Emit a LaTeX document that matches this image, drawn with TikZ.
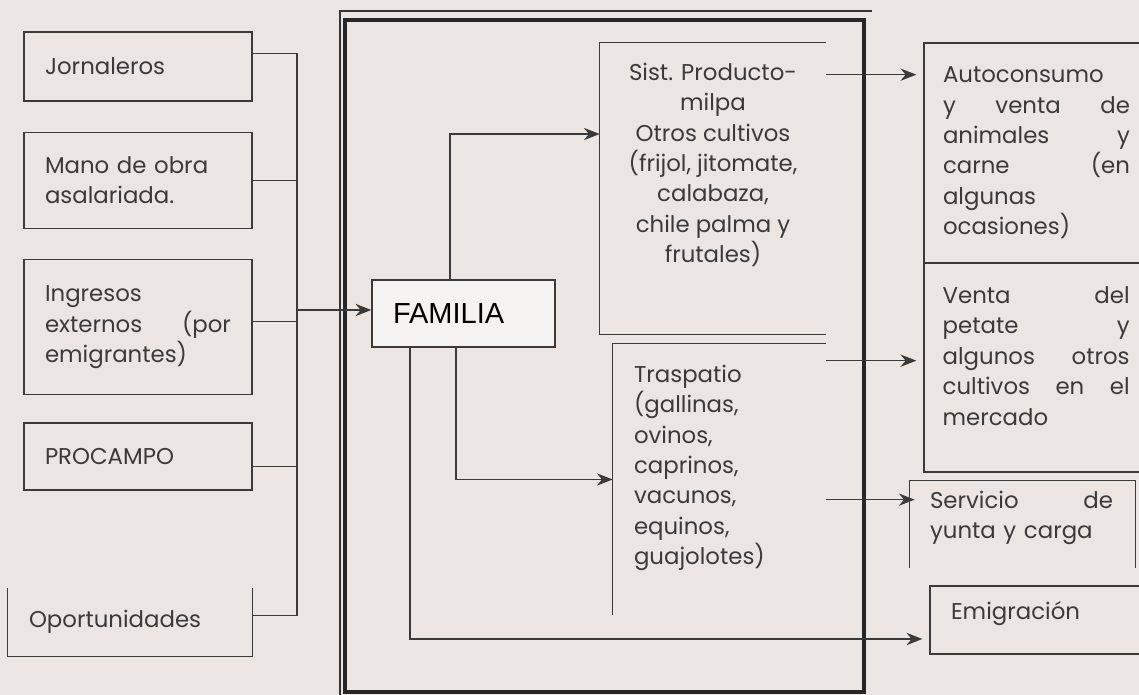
\documentclass[tikz,border=0pt]{standalone}
\usepackage{fontspec}
\setmainfont{Poppins}
\newfontfamily\arialfont{Liberation Sans}
\usetikzlibrary{shapes,arrows,arrows.meta,positioning}
\definecolor{paper}{HTML}{ECE6E2}
\definecolor{ink}{HTML}{3A3A3A}
\definecolor{famfill}{HTML}{F5F3F1}
\tikzstyle{leftbox} = [rectangle, draw=ink, line width=0.8pt, minimum width=4.56cm, text width=3.72cm, inner xsep=0.42cm, align=left, text=ink, font=\fontsize{13}{17.3}\selectfont]
\tikzstyle{rightbox} = [rectangle, draw=ink, line width=0.8pt, minimum width=4.5cm, text width=3.74cm, inner xsep=0.38cm, align=left, text=ink, font=\fontsize{13}{17.3}\selectfont]
\tikzstyle{openbox} = [rectangle, inner sep=0pt]
\tikzstyle{celltext} = [inner sep=0pt, text=ink, font=\fontsize{13}{17.3}\selectfont]
\tikzstyle{family} = [rectangle, draw=ink, line width=0.8pt, fill=famfill, minimum width=3.66cm, minimum height=1.34cm, text width=2.82cm, inner xsep=0.42cm, align=left, font=\arialfont\fontsize{16.5}{18}\selectfont]
\tikzstyle{boxline} = [draw=ink, line width=0.8pt]
\tikzstyle{arrow} = [draw=ink, line width=0.8pt, ->, >={Stealth[length=9pt,width=7pt]}]

\begin{document}
\begin{tikzpicture}[x=0.02cm,y=-0.02cm]
\useasboundingbox (0,0) rectangle (1139,695);
\fill[paper] (0,0) rectangle (1139,695);
\clip (0,0) rectangle (1139,695);

% income sources
\node [leftbox, minimum height=1.38cm] (jorn) at (138,66.5) {Jornaleros};
\node [leftbox, minimum height=1.92cm, below=0.6cm of jorn] (mano) {Mano de obra\\asalariada.};
\node [leftbox, minimum height=2.7cm, below=0.6cm of mano] (ingresos) {Ingresos\\externos\hfill (por\\emigrantes)};
\node [leftbox, minimum height=1.34cm, below=0.54cm of ingresos] (procampo) {PROCAMPO};
\node [leftbox, draw=none, minimum width=4.88cm, text width=4.04cm, minimum height=1.34cm, below=1.94cm of procampo, xshift=-0.16cm] (oport) {Oportunidades};
\draw [boxline] (oport.north west) -- (oport.south west) -- (oport.south east) -- (oport.north east);

% frame around the family unit
\node [rectangle, draw=black!85, line width=2.3pt, minimum width=10.38cm, minimum height=13.44cm] (marco) at (604.5,356) {};
\draw [black!80, line width=0.8pt] (340,700) -- (340,11) -- (872,11);

\node [family] (familia) at (463.5,313.5) {FAMILIA};

% production activities
\node [openbox, minimum width=4.52cm, minimum height=5.82cm] (sist) at (713,188.5) {};
\draw [boxline] (sist.north east) -- (sist.north west) -- (sist.south west) -- (sist.south east);
\node [celltext, align=center, below=0.4cm of sist.north] (sisttext) {Sist. Producto-\\milpa\\Otros cultivos\\(frijol, jitomate,\\calabaza,\\chile palma y\\frutales)};

\node [openbox, minimum width=4.26cm, minimum height=5.42cm] (tras) at (719.5,479.5) {};
\draw [boxline] (tras.north east) -- (tras.north west) -- (tras.south west);
\node [celltext, align=left, below right=0.42cm and 0.42cm of tras.north west] (trastext) {Traspatio\\(gallinas,\\ovinos,\\caprinos,\\vacunos,\\equinos,\\guajolotes)};

% destinations
\node [rightbox, minimum height=4.4cm] (auto) at (1036.5,153) {Autoconsumo\\y\hfill venta\hfill de\\animales\hfill y\\carne\hfill (en\\algunas\\ocasiones)};
\node [rightbox, minimum height=4.18cm] (venta) at (1036.5,367.5) {};
\node [celltext, text width=3.74cm, align=left, below right=0.48cm and 0.38cm of venta.north west] (ventatext) {Venta\hfill del\\petate\hfill y\\algunos\hfill otros\\cultivos\hfill en\hfill el\\mercado};
\node [openbox, minimum width=4.5cm, minimum height=1.74cm] (serv) at (1022.5,524.5) {};
\draw [boxline] (serv.south west) -- (serv.north west) -- (serv.north east) -- (serv.south east);
\node [celltext, text width=3.66cm, align=left, below right=0.2cm and 0.4cm of serv.north west] (servtext) {Servicio\hfill de\\yunta y carga};
\node [rightbox, minimum width=4.36cm, text width=3.6cm, inner xsep=0.42cm, minimum height=1.36cm, text depth=0.37cm] (emig) at (1041,620) {Emigración};

% connectors
\coordinate (bus) at (297,310);
\draw [boxline] ([yshift=0.26cm]jorn.east) -| (bus) |- ([yshift=0.13cm]oport.east);
\draw [boxline] (mano.east) -- (mano.east -| bus);
\draw [boxline] ([yshift=0.12cm]ingresos.east) -- ([yshift=0.12cm]ingresos.east -| bus);
\draw [boxline] ([yshift=-0.2cm]procampo.east) -- ([yshift=-0.2cm]procampo.east -| bus);
\draw [arrow] (bus) -- (bus -| familia.west);

\draw [arrow] ([xshift=-0.27cm]familia.north) |- ([yshift=1.09cm]sist.west);
\draw [arrow] ([xshift=-0.15cm]familia.south) |- (tras.west);
\draw [arrow, shorten >=0.14cm] ([xshift=-1.07cm]familia.south) |- ([yshift=-0.38cm]emig.west);

\draw [arrow, shorten >=0.14cm] ([yshift=-0.64cm]sist.north east) -- ([yshift=-0.64cm]sist.north east -| auto.west);
\draw [arrow, shorten >=0.14cm] ([yshift=-0.34cm]tras.north east) -- ([yshift=-0.34cm]tras.north east -| venta.west);
\draw [arrow, shorten >=-0.1cm] ([yshift=-3.12cm]tras.north east) -- ([yshift=-3.12cm]tras.north east -| serv.west);
\end{tikzpicture}
\end{document}
